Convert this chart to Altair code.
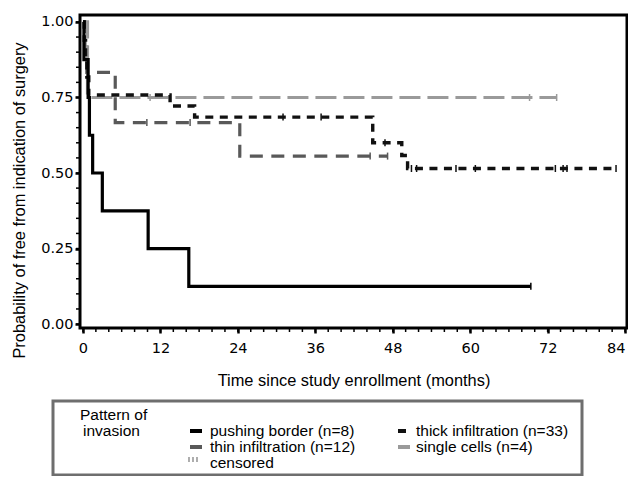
import altair as alt
import pandas as pd

# ---------------- data ----------------
series_names = ["pushing border (n=8)", "thick infiltration (n=33)",
                "thin infiltration (n=12)", "single cells (n=4)"]

pushing_time = [0, 0.15, 0.8, 1.0, 1.5, 3.0, 10.1, 16.4, 69.4]
pushing_surv = [1.0, 0.875, 0.75, 0.625, 0.5, 0.375, 0.25, 0.125, 0.125]
pushing_censor = [69.4]

thick_time = [0, 0.2, 0.4, 0.6, 0.9, 13.5, 17.3, 44.9, 49.4, 50.3, 82.6]
thick_surv = [1.0, 0.939, 0.879, 0.818, 0.758, 0.722, 0.685, 0.600, 0.558, 0.515, 0.515]
thick_censor = [31.0, 36.9, 46.8, 50.9, 51.7, 57.8, 60.8, 73.2, 74.4, 75.0, 82.6]

thin_time = [0, 0.3, 0.6, 5.0, 24.3, 47.2]
thin_surv = [1.0, 0.917, 0.833, 0.667, 0.556, 0.556]
thin_censor = [9.9, 16.6, 44.5, 47.2]

single_time = [0, 0.7, 73.4]
single_surv = [1.0, 0.75, 0.75]
single_censor = [10.4, 69.2, 73.4]

x_tick_values = [0, 12, 24, 36, 48, 60, 72, 84]
y_tick_values = [0.0, 0.25, 0.5, 0.75, 1.0]
x_minor_values = list(range(0, 85, 2))
y_minor_values = [round(i * 0.05, 2) for i in range(21)]

# ---------------- layout ----------------
W, H = 547, 313
X_DOM = [-0.46, 84.3]
Y_DOM = [-0.013, 1.023]
TICK_FONT = "DejaVu Sans"
TEXT_FONT = "Liberation Sans"

xs = alt.Scale(domain=X_DOM, nice=False, zero=False)
ys = alt.Scale(domain=Y_DOM, nice=False, zero=False)

x_axis = alt.Axis(values=x_tick_values, title="Time since study enrollment (months)",
                  grid=False, domain=False, tickSize=5, tickWidth=2.5, tickColor="black",
                  labelFont=TICK_FONT, labelFontSize=14.5, labelColor="black",
                  labelPadding=8, labelFlush=2.5, labelOverlap=False,
                  titleFont=TEXT_FONT, titleFontSize=16.4, titleFontWeight="normal",
                  titleColor="black", titleY=52, titleBaseline="middle")
y_axis = alt.Axis(values=y_tick_values, format=".2f",
                  title="Probability of free from indication of surgery",
                  grid=False, domain=False, tickSize=5, tickWidth=2.5, tickColor="black",
                  labelFont=TICK_FONT, labelFontSize=14.5, labelColor="black",
                  labelPadding=2, labelFlush=False,
                  titleFont=TEXT_FONT, titleFontSize=16.4, titleFontWeight="normal",
                  titleColor="black", titleX=-61, titleY=185, titleAngle=270,
                  titleBaseline="middle", titleAlign="center")


def X(field):
    return alt.X(field, type="quantitative", scale=xs, axis=x_axis)


def Y(field):
    return alt.Y(field, type="quantitative", scale=ys, axis=y_axis)


def level_at(times, surv, t):
    lv = surv[0]
    for ti, si in zip(times, surv):
        if ti <= t:
            lv = si
    return lv


styles = {
    "pushing border (n=8)": dict(color="#000000", dash=None, width=3.2),
    "thick infiltration (n=33)": dict(color="#111111", dash=[8, 6.5], width=3.4),
    "thin infiltration (n=12)": dict(color="#595959", dash=[13, 8.5], width=3.2),
    "single cells (n=4)": dict(color="#9a9a9a", dash=[21, 7], width=3.2),
}
series = {
    "pushing border (n=8)": (pushing_time, pushing_surv, pushing_censor),
    "thick infiltration (n=33)": (thick_time, thick_surv, thick_censor),
    "thin infiltration (n=12)": (thin_time, thin_surv, thin_censor),
    "single cells (n=4)": (single_time, single_surv, single_censor),
}
draw_order = ["thin infiltration (n=12)", "single cells (n=4)",
              "thick infiltration (n=33)", "pushing border (n=8)"]

layers = []

# minor ticks
layers.append(alt.Chart(pd.DataFrame({"v": x_minor_values})).mark_tick(
    orient="vertical", size=3, thickness=1.5, color="black", opacity=1)
    .encode(x=X("v"), y=alt.value(H + 2.5)))
layers.append(alt.Chart(pd.DataFrame({"v": y_minor_values})).mark_tick(
    orient="horizontal", size=3, thickness=1.5, color="black", opacity=1)
    .encode(y=Y("v"), x=alt.value(-2.5)))

for name in draw_order:
    times, surv, cens = series[name]
    st = styles[name]
    df = pd.DataFrame({"t": times, "s": surv})
    mk = dict(interpolate="step-after", color=st["color"], strokeWidth=st["width"],
              strokeCap="butt")
    if st["dash"]:
        mk["strokeDash"] = st["dash"]
    layers.append(alt.Chart(df).mark_line(**mk).encode(x=X("t"), y=Y("s")))
    cdf = pd.DataFrame({"t": cens, "s": [level_at(times, surv, c) for c in cens]})
    layers.append(alt.Chart(cdf).mark_tick(orient="vertical", size=7, thickness=1.5,
                                           color=st["color"], opacity=1)
                  .encode(x=X("t"), y=Y("s")))

# ---------------- legend (drawn below the plot) ----------------
dummy = pd.DataFrame({"a": [0]})
layers.append(alt.Chart(dummy).mark_rect(fillOpacity=0, stroke="#6e6e6e", strokeWidth=3)
              .encode(x=alt.value(-27), x2=alt.value(502), y=alt.value(386), y2=alt.value(460)))

LEG_FS = 15.5


def legend_text(txt, x, y):
    return alt.Chart(dummy).mark_text(align="left", baseline="alphabetic", font=TEXT_FONT,
                                      fontSize=LEG_FS, color="black").encode(
        x=alt.value(x), y=alt.value(y), text=alt.value(txt))


def legend_swatch(color, x1, x2, y, w=4):
    return alt.Chart(dummy).mark_rule(color=color, strokeWidth=w).encode(
        x=alt.value(x1), x2=alt.value(x2), y=alt.value(y))


layers.append(legend_text("Pattern of", 0, 405))
layers.append(legend_text("invasion", 3, 421))
col_x = [110, 318]
text_x = [130, 336]
row_y = [421, 437]
legend_pos = {
    "pushing border (n=8)": (0, 0, 12),
    "thick infiltration (n=33)": (1, 0, 8),
    "thin infiltration (n=12)": (0, 1, 12),
    "single cells (n=4)": (1, 1, 12),
}
for name in series_names:
    c, r, ln = legend_pos[name]
    layers.append(legend_swatch(styles[name]["color"], col_x[c], col_x[c] + ln, row_y[r] - 5))
    layers.append(legend_text(name, text_x[c], row_y[r]))
for dx in [0, 4, 8]:
    layers.append(alt.Chart(dummy).mark_rule(color="#777777", strokeWidth=1.2).encode(
        x=alt.value(109 + dx), y=alt.value(442), y2=alt.value(447)))
layers.append(legend_text("censored", text_x[0], 453))

chart = alt.layer(*layers).properties(
    width=W, height=H,
    autosize=alt.AutoSizeParams(type="none"),
    padding={"left": 72, "top": 7, "right": 1, "bottom": 148},
).configure_view(stroke="black", strokeWidth=3)

chart.save("out.html", embed_options={"renderer": "svg", "actions": False})
